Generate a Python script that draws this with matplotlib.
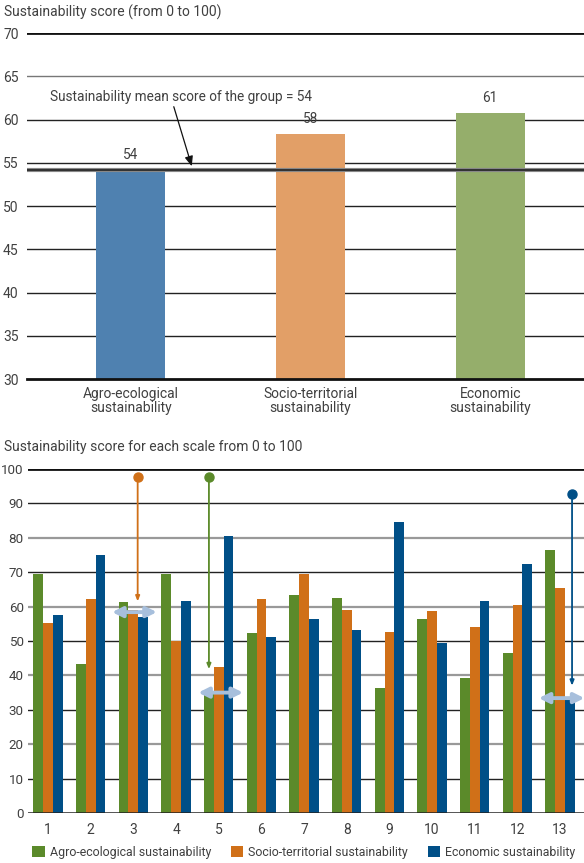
import matplotlib
matplotlib.use("Agg")
import matplotlib.pyplot as plt
import numpy as np

plt.rcParams['font.family'] = ['Roboto', 'DejaVu Sans']

# Overall dimension scores
dimensions = ["Agro-ecological\nsustainability", "Socio-territorial\nsustainability",
              "Economic\nsustainability"]
dimension_scores = [54.2, 58.3, 60.8]
dimension_labels = ["54", "58", "61"]
group_mean = 54.2

# Scores per farm
farms = list(range(1, 14))
agro = [69.5, 43.4, 61.4, 69.5, 34.5, 52.4, 63.4, 62.5, 36.4, 56.5, 39.3, 46.6, 76.5]
socio = [55.2, 62.3, 59.0, 50.0, 42.3, 62.3, 69.5, 59.1, 52.7, 58.8, 54.1, 60.6, 65.5]
econ = [57.6, 75.0, 57.1, 61.7, 80.5, 51.3, 56.5, 53.3, 84.6, 49.5, 61.7, 72.4, 33.2]

# Highlighted extremes: (x, top of stem, bottom of stem, colour)
stems = [(3.1, 97.7, 61.5, "#d07018"), (4.77, 97.7, 41.8, "#5b8a2a"), (13.28, 92.7, 37.0, "#004f87")]
# Horizontal double arrows: (x start, x end, y)
spans = [(2.5, 3.55, 58.4), (4.52, 5.57, 35.0), (12.5, 13.57, 33.4)]

top_colors = ["#4f81b0", "#e29f67", "#95ae6b"]
c_agro, c_socio, c_econ = "#5b8a2a", "#d07018", "#004f87"
text_c = "#404040"
fs = 9.8

fig = plt.figure(figsize=(5.84, 8.63), dpi=100)

# ---------- top panel ----------
ax1 = fig.add_axes([27/584, 1-379/863, 1-27/584, (379-33)/863])
xpos = np.arange(len(dimensions))
ax1.bar(xpos, dimension_scores, width=0.383, color=top_colors, zorder=3)
for x, v, lab in zip(xpos, dimension_scores, dimension_labels):
    ax1.text(x, v + 0.9, lab, ha="center", va="bottom", fontsize=fs, color=text_c)
ax1.set_ylim(30, 70)
ax1.set_xlim(-0.578, 2.522)
for y in range(35, 70, 5):
    ax1.axhline(y, color="#222222" if y != 65 else "#777777", lw=1.0, zorder=1)
ax1.axhline(70, color="#111111", lw=2.0, zorder=1)
ax1.axhline(30, color="#111111", lw=2.0, zorder=4, clip_on=False)
ax1.axhline(group_mean, color="#888888", lw=3.0, zorder=4)
ax1.axhline(group_mean, color="#222222", lw=1.2, zorder=4)
ax1.set_yticks(range(30, 71, 5))
ax1.set_xticks(xpos)
ax1.set_xticklabels(dimensions, fontsize=fs, color=text_c, linespacing=0.95)
ax1.tick_params(length=0, pad=6, labelsize=10, colors=text_c)
ax1.tick_params(axis="y", pad=6)
for s in ax1.spines.values():
    s.set_visible(False)
ax1.annotate("Sustainability mean score of the group = 54", xy=(0.339, 54.6),
             xytext=(0.278, 61.8), fontsize=fs, color=text_c, ha="center", va="bottom",
             arrowprops=dict(arrowstyle="-|>,head_length=0.6,head_width=0.25", color="#111111", lw=0.9,
                             shrinkA=0, shrinkB=0, relpos=(0.47, 0)), zorder=6)
fig.text(4/584, 1-12/863, "Sustainability score (from 0 to 100)", fontsize=10, color=text_c, va="center")

# ---------- bottom panel ----------
ax2 = fig.add_axes([28/584, 1-813/863, 1-28/584, (813-469)/863])
w = 0.23
x = np.array(farms, dtype=float)
ax2.bar(x - w, agro, width=w, color=c_agro, zorder=3, label="Agro-ecological sustainability")
ax2.bar(x, socio, width=w, color=c_socio, zorder=3, label="Socio-territorial sustainability")
ax2.bar(x + w, econ, width=w, color=c_econ, zorder=3, label="Economic sustainability")
ax2.set_ylim(0, 100)
ax2.set_xlim(0.53, 13.56)
for y in range(10, 100, 10):
    if y % 20 == 0:
        ax2.axhline(y, color="#999999", lw=1.6, zorder=1)
    else:
        ax2.axhline(y, color="#222222", lw=1.0, zorder=1)
ax2.axhline(100, color="#111111", lw=2.0, zorder=1)
ax2.axhline(0, color="#222222", lw=1.8, zorder=4)
ax2.set_yticks(range(0, 101, 10))
ax2.set_xticks(farms)
ax2.tick_params(length=0, pad=7, labelsize=10, colors=text_c)
ax2.tick_params(axis="y", pad=3, labelsize=9.6)
for s in ax2.spines.values():
    s.set_visible(False)

for sx, ytop, ybot, col in stems:
    ax2.annotate("", xy=(sx, ybot), xytext=(sx, ytop),
                 arrowprops=dict(arrowstyle="-|>,head_length=0.3,head_width=0.12", color=col, lw=1.3,
                                 shrinkA=0, shrinkB=0), zorder=6)
    ax2.plot([sx], [ytop], "o", color=col, ms=6.5, zorder=7)
for xa, xb, yy in spans:
    ax2.annotate("", xy=(xb, yy), xytext=(xa, yy),
                 arrowprops=dict(arrowstyle="<|-|>,head_length=0.6,head_width=0.3", color="#a7bfdc",
                                 lw=2.8, shrinkA=0, shrinkB=0), zorder=8)

fig.text(4/584, 1-447/863, "Sustainability score for each scale from 0 to 100", fontsize=10,
         color=text_c, va="center")
leg = fig.legend(loc="center", bbox_to_anchor=(0.52, 1-852/863), ncol=3, frameon=False,
                 fontsize=8.9, handlelength=1.0, handleheight=1.0, handletextpad=0.4,
                 columnspacing=1.6, labelcolor=text_c, borderaxespad=0, borderpad=0)

fig.savefig("out.png", dpi=100)
